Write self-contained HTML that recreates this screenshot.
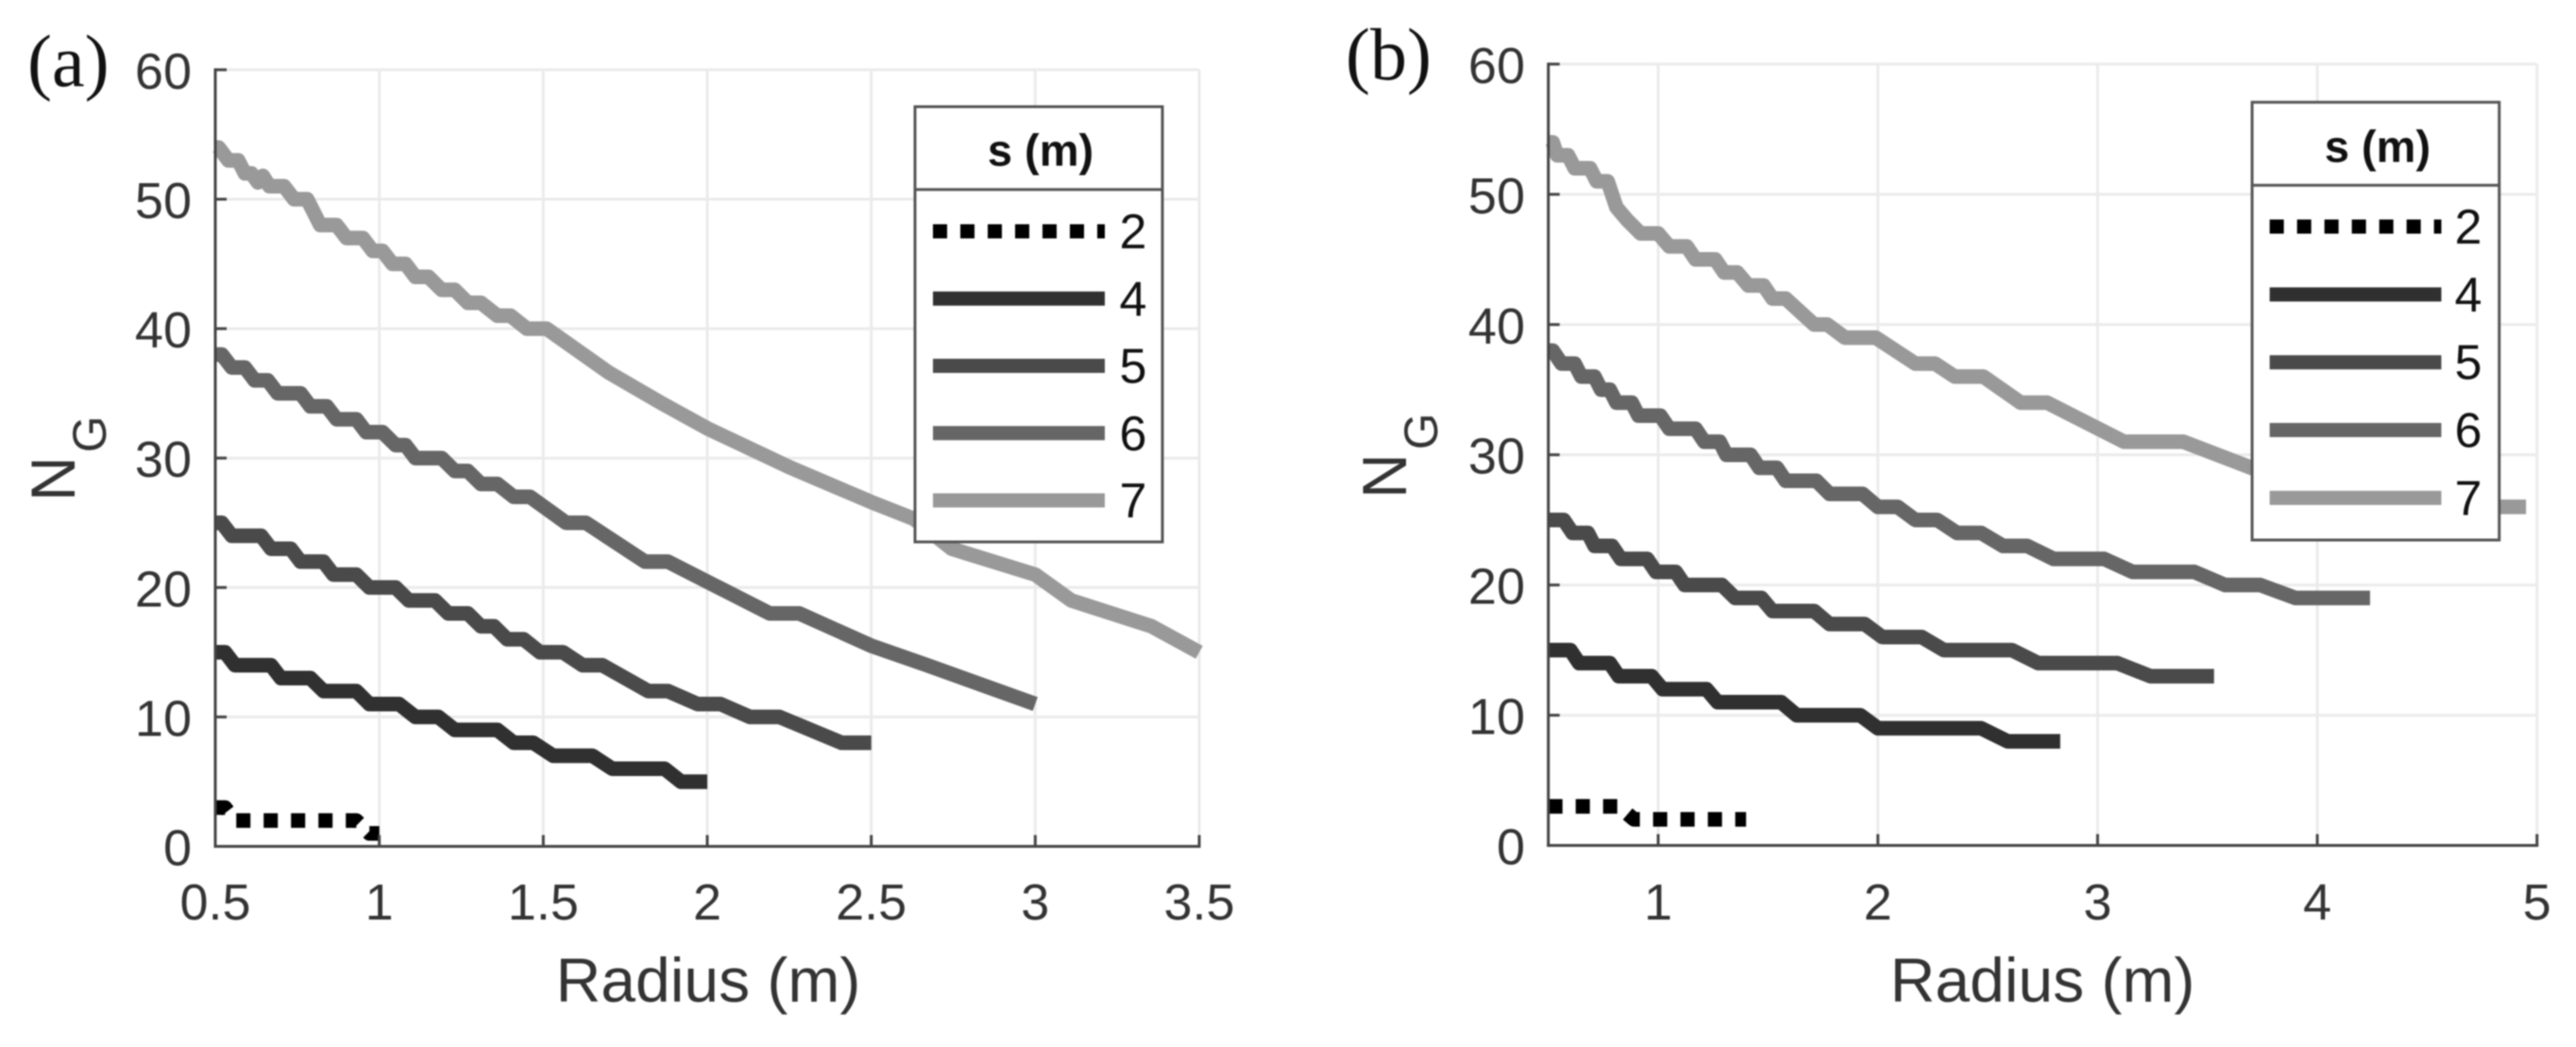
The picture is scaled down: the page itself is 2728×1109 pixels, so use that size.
<!DOCTYPE html>
<html lang="en">
<head>
<meta charset="utf-8">
<title>NG versus radius</title>
<style>
html,body{margin:0;padding:0;background:#fff;}
svg{display:block;filter:blur(0.7px);}
text{font-family:"Liberation Sans",sans-serif;}
</style>
</head>
<body>
<svg id="chart" xmlns="http://www.w3.org/2000/svg" width="2728" height="1109" viewBox="0 0 2728 1109"></svg>
<script>
const xTicksA = [0.5, 1, 1.5, 2, 2.5, 3, 3.5];
const xTicksB = [1, 2, 3, 4, 5];
const yTicks = [0, 10, 20, 30, 40, 50, 60];
const seriesNames = ['2', '4', '5', '6', '7'];
const seriesColors = ['#000000', '#303030', '#4a4a4a', '#666666', '#999999'];

const radiusA2 = [0.5, 0.53, 0.56, 0.93, 0.97, 1];
const ngA2 = [3, 3, 2, 2, 1, 1];
const radiusA4 = [0.5, 0.53, 0.56, 0.67, 0.7, 0.79, 0.83, 0.93, 0.97, 1.06, 1.11, 1.18, 1.23, 1.36, 1.41, 1.47, 1.53, 1.65, 1.71, 1.87, 1.92, 2];
const ngA4 = [15, 15, 14, 14, 13, 13, 12, 12, 11, 11, 10, 10, 9, 9, 8, 8, 7, 7, 6, 6, 5, 5];
const radiusA5 = [0.5, 0.52, 0.55, 0.64, 0.67, 0.73, 0.76, 0.83, 0.86, 0.93, 0.97, 1.05, 1.09, 1.17, 1.21, 1.27, 1.31, 1.35, 1.39, 1.44, 1.49, 1.56, 1.62, 1.68, 1.82, 1.88, 1.97, 2.04, 2.13, 2.22, 2.41, 2.5];
const ngA5 = [25, 25, 24, 24, 23, 23, 22, 22, 21, 21, 20, 20, 19, 19, 18, 18, 17, 17, 16, 16, 15, 15, 14, 14, 12, 12, 11, 11, 10, 10, 8, 8];
const radiusA6 = [0.5, 0.52, 0.55, 0.59, 0.62, 0.66, 0.69, 0.76, 0.79, 0.84, 0.87, 0.93, 0.96, 1.01, 1.05, 1.08, 1.11, 1.19, 1.23, 1.27, 1.31, 1.36, 1.41, 1.46, 1.57, 1.63, 1.81, 1.88, 2.19, 2.28, 2.5, 2.67, 3];
const ngA6 = [38, 38, 37, 37, 36, 36, 35, 35, 34, 34, 33, 33, 32, 32, 31, 31, 30, 30, 29, 29, 28, 28, 27, 27, 25, 25, 22, 22, 18, 18, 15.5, 14, 11];
const radiusA7 = [0.5, 0.51, 0.54, 0.57, 0.59, 0.61, 0.63, 0.645, 0.665, 0.71, 0.74, 0.78, 0.82, 0.87, 0.9, 0.95, 0.98, 1.01, 1.04, 1.08, 1.11, 1.15, 1.19, 1.23, 1.27, 1.31, 1.36, 1.4, 1.45, 1.51, 1.7, 1.86, 2, 2.25, 2.5, 2.63, 2.745, 3, 3.11, 3.355, 3.5];
const ngA7 = [54, 54, 53, 53, 52, 52, 51.3, 51.8, 51, 51, 50, 50, 48, 48, 47, 47, 46, 46, 45, 45, 44, 44, 43, 43, 42, 42, 41, 41, 40, 40, 36.6, 34.25, 32.3, 29.3, 26.6, 25.3, 23, 21, 19, 17, 15];

const radiusB2 = [0.5, 0.82, 0.89, 1.4];
const ngB2 = [3, 3, 2, 2];
const radiusB4 = [0.5, 0.6, 0.64, 0.78, 0.82, 0.97, 1.02, 1.22, 1.27, 1.56, 1.63, 1.92, 2, 2.47, 2.59, 2.83];
const ngB4 = [15, 15, 14, 14, 13, 13, 12, 12, 11, 11, 10, 10, 9, 9, 8, 8];
const radiusB5 = [0.5, 0.57, 0.61, 0.68, 0.71, 0.79, 0.83, 0.95, 0.99, 1.08, 1.12, 1.29, 1.35, 1.47, 1.52, 1.71, 1.78, 1.94, 2.02, 2.2, 2.3, 2.61, 2.73, 3.09, 3.24, 3.53];
const ngB5 = [25, 25, 24, 24, 23, 23, 22, 22, 21, 21, 20, 20, 19, 19, 18, 18, 17, 17, 16, 16, 15, 15, 14, 14, 13, 13];
const radiusB6 = [0.5, 0.52, 0.56, 0.62, 0.65, 0.71, 0.74, 0.78, 0.81, 0.88, 0.91, 1.01, 1.05, 1.17, 1.21, 1.28, 1.31, 1.42, 1.46, 1.54, 1.58, 1.72, 1.78, 1.93, 2, 2.09, 2.17, 2.27, 2.36, 2.47, 2.57, 2.68, 2.8, 3.03, 3.16, 3.44, 3.58, 3.74, 3.9, 4.24];
const ngB6 = [38, 38, 37, 37, 36, 36, 35, 35, 34, 34, 33, 33, 32, 32, 31, 31, 30, 30, 29, 29, 28, 28, 27, 27, 26, 26, 25, 25, 24, 24, 23, 23, 22, 22, 21, 21, 20, 20, 19, 19];
const radiusB7 = [0.5, 0.52, 0.54, 0.59, 0.62, 0.69, 0.72, 0.77, 0.81, 0.86, 0.92, 1, 1.05, 1.13, 1.17, 1.26, 1.3, 1.36, 1.41, 1.48, 1.52, 1.58, 1.71, 1.77, 1.85, 1.99, 2.17, 2.26, 2.35, 2.48, 2.65, 2.77, 3.12, 3.39, 3.7, 4, 4.3, 4.6, 4.95];
const ngB7 = [54, 54, 53, 53, 52, 52, 51, 51, 49, 48, 47, 47, 46, 46, 45, 45, 44, 44, 43, 43, 42, 42, 40, 40, 39, 39, 37, 37, 36, 36, 34, 34, 31, 31, 29, 28, 27, 26, 26];

const svg = document.getElementById('chart');
const NS = 'http://www.w3.org/2000/svg';

function make(tag, attrs, parent) {
  const el = document.createElementNS(NS, tag);
  for (const k in attrs) el.setAttribute(k, attrs[k]);
  (parent || svg).appendChild(el);
  return el;
}

function drawPanel(panel, xMin, xMax, x0, x1, yBottom, yTop, xTicks, radii, values, yTickRight, yLabelX, yLabelY, letter, letterX, letterY, xLabelCenter, legendLeft, legendRight, legendTop, legendDivider, legendBottom, sampleLeft, sampleRight, sampleTop, sampleStep, digitX) {
  const xScale = r => x0 + (r - xMin) / (xMax - xMin) * (x1 - x0);
  const yScale = v => yBottom + (v / 60) * (yTop - yBottom);

  const g = make('g', {});
  
  

  yTicks.forEach(v => {
    if (v === 0) return;
    const line = make('line', {x1: x0, x2: x1, y1: yScale(v), y2: yScale(v), stroke: '#ebebeb', 'stroke-width': 3}, g);
    
    
  });
  const gridXs = xTicks.slice();
  gridXs.forEach(v => {
    if (v === xMin) return;
    const line = make('line', {x1: xScale(v), x2: xScale(v), y1: yTop, y2: yBottom, stroke: '#ebebeb', 'stroke-width': 3}, g);
    
    
  });

  seriesNames.forEach((name, i) => {
    const pts = radii[i].map((r, j) => xScale(r).toFixed(1) + ',' + yScale(values[i][j]).toFixed(1)).join(' ');
    const attrs = {points: pts, fill: 'none', stroke: seriesColors[i], 'stroke-width': 15.5, 'stroke-linejoin': 'round', 'stroke-linecap': 'butt'};
    if (name === '2') attrs['stroke-dasharray'] = '15 14';
    const line = make('polyline', attrs, g);
    
    
  });

  const xAxis = make('line', {x1: x0 - 1.5, x2: x1 + 1.5, y1: yBottom, y2: yBottom, stroke: '#444', 'stroke-width': 3}, g);
  
  
  const yAxis = make('line', {x1: x0, x2: x0, y1: yTop - 1.5, y2: yBottom + 1.5, stroke: '#444', 'stroke-width': 3}, g);
  
  

  yTicks.forEach(v => {
    const tick = make('line', {x1: x0, x2: x0 + 12, y1: yScale(v), y2: yScale(v), stroke: '#444', 'stroke-width': 3}, g);
    
    
    const label = make('text', {x: yTickRight, y: yScale(v) + 20, 'text-anchor': 'end', 'font-size': 54, fill: '#333'}, g);
    label.textContent = String(v);
    
    
  });
  xTicks.forEach(v => {
    const tick = make('line', {x1: xScale(v), x2: xScale(v), y1: yBottom, y2: yBottom - 12, stroke: '#444', 'stroke-width': 3}, g);
    
    
    const label = make('text', {x: xScale(v), y: 974, 'text-anchor': 'middle', 'font-size': 54, fill: '#333'}, g);
    label.textContent = String(v);
    
    
  });

  const xTitle = make('text', {x: xLabelCenter, y: 1061, 'text-anchor': 'middle', 'font-size': 66, fill: '#333'}, g);
  xTitle.textContent = 'Radius (m)';
  
  

  const yTitle = make('text', {transform: 'translate(' + yLabelX + ',' + yLabelY + ') rotate(-90)', 'font-size': 66, fill: '#333'}, g);
  
  
  yTitle.appendChild(document.createTextNode('N'));
  const sub = make('tspan', {dx: 4, dy: 33, 'font-size': 50}, yTitle);
  sub.textContent = 'G';

  const letterEl = make('text', {x: letterX, y: letterY, 'font-size': 78, fill: '#111', style: 'font-family:"Liberation Serif",serif'}, g);
  letterEl.textContent = letter;
  
  

  const legend = make('g', {}, g);
  
  
  const box = make('rect', {x: legendLeft, y: legendTop, width: legendRight - legendLeft, height: legendBottom - legendTop, fill: '#fff', stroke: '#555', 'stroke-width': 3}, legend);
  
  
  const divider = make('line', {x1: legendLeft, x2: legendRight, y1: legendDivider, y2: legendDivider, stroke: '#555', 'stroke-width': 3}, legend);
  
  
  const title = make('text', {x: (legendLeft + legendRight) / 2 + 2, y: legendDivider - 25, 'text-anchor': 'middle', 'font-size': 47, 'font-weight': 'bold', fill: '#111'}, legend);
  title.textContent = 's (m)';
  
  

  seriesNames.forEach((name, i) => {
    const y = sampleTop + i * sampleStep;
    const attrs = {x1: sampleLeft, x2: sampleRight, y1: y, y2: y, stroke: seriesColors[i], 'stroke-width': 15};
    if (name === '2') attrs['stroke-dasharray'] = '15 14';
    const sample = make('line', attrs, legend);
    
    
    const label = make('text', {x: digitX, y: y + 18, 'text-anchor': 'middle', 'font-size': 52, fill: '#111'}, legend);
    label.textContent = name;
    
    
  });
}

drawPanel('a', 0.5, 3.5, 228, 1270, 896.5, 73.9, xTicksA,
  [radiusA2, radiusA4, radiusA5, radiusA6, radiusA7], [ngA2, ngA4, ngA5, ngA6, ngA7],
  203, 79, 531, '(a)', 29, 91, 750,
  969, 1231, 113, 200.7, 574, 988, 1170, 245, 71.25, 1200);
drawPanel('b', 0.5, 5, 1639.7, 2686.7, 895.5, 67.9, xTicksB,
  [radiusB2, radiusB4, radiusB5, radiusB6, radiusB7], [ngB2, ngB4, ngB5, ngB6, ngB7],
  1615, 1489, 528, '(b)', 1425, 84, 2163,
  2385, 2646.7, 108.3, 196.3, 572, 2403.6, 2585.4, 240, 71.85, 2614);
</script>
</body>
</html>
